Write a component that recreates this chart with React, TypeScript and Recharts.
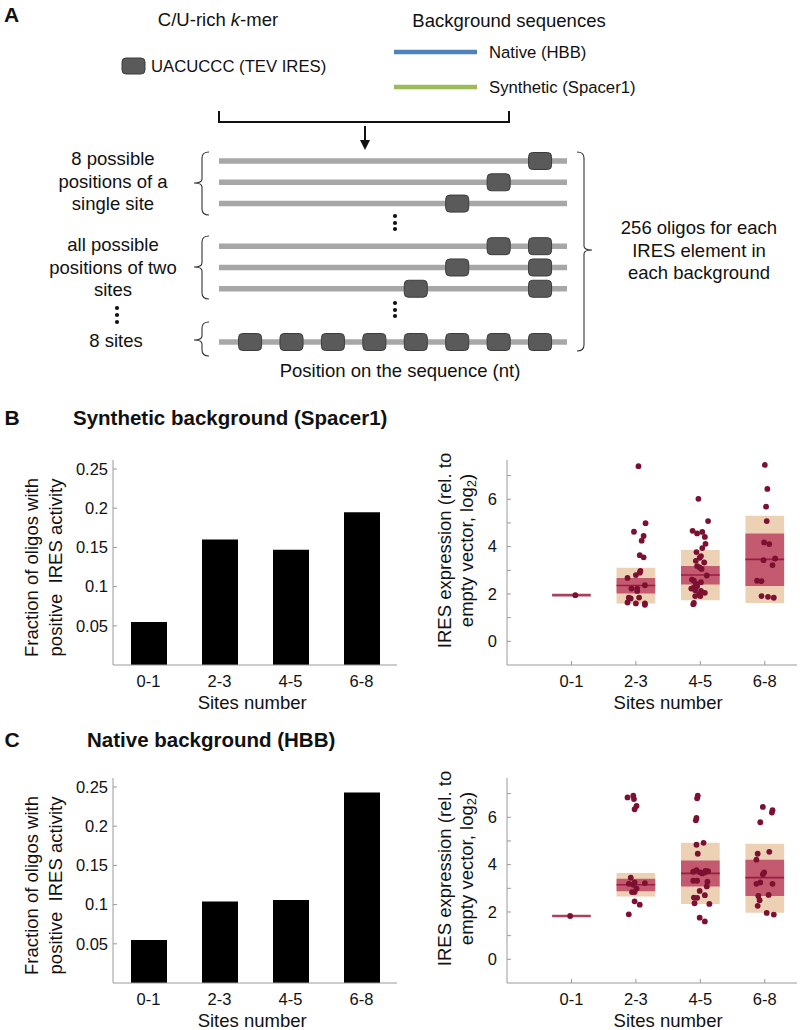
import React from 'react';
import {
  BarChart, Bar, XAxis, YAxis, ComposedChart, Scatter, ScatterChart,
  ReferenceArea, ReferenceLine,
} from 'recharts';

const FONT = '"Liberation Sans", Arial, Helvetica, sans-serif';
const AXIS = '#9a9a9a';
const LIGHT = '#ecd1b4';
const DARK = '#c45a70';
const MEDIAN = '#9c1c42';
const DOT = '#7c1030';
const SITE = '#5a5a5a';

// ---------- data ----------
const siteCategories = ['0-1', '2-3', '4-5', '6-8'];
const categoryPositions = [1, 2, 3, 4];

const synthFraction = [0.055, 0.160, 0.147, 0.195];
const nativeFraction = [0.055, 0.104, 0.106, 0.243];
const fractionTicks = [0.05, 0.1, 0.15, 0.2, 0.25];
const expressionTicks = [0, 1, 2, 3, 4, 5, 6, 7];

const synthMedian = [1.95, 2.36, 2.80, 3.46];
const synthInnerLow = [1.95, 2.02, 2.40, 2.34];
const synthInnerHigh = [1.95, 2.68, 3.18, 4.56];
const synthOuterLow = [1.95, 1.60, 1.74, 1.62];
const synthOuterHigh = [1.95, 3.11, 3.86, 5.30];

const nativeMedian = [1.83, 3.15, 3.63, 3.45];
const nativeInnerLow = [1.83, 2.88, 3.08, 2.68];
const nativeInnerHigh = [1.83, 3.40, 4.18, 4.21];
const nativeOuterLow = [1.83, 2.65, 2.34, 1.97];
const nativeOuterHigh = [1.83, 3.65, 4.92, 4.88];

const synthPoints: [number, number][] = [
  [1.06, 1.95],
  [2.15, 4.99], [1.97, 4.63], [2.12, 4.45], [2.09, 4.25], [2.06, 3.64], [2.12, 3.55],
  [2.07, 2.97], [2.06, 2.90], [2.00, 2.80], [1.87, 2.68], [2.14, 2.37], [1.93, 2.23],
  [2.02, 2.23], [2.02, 2.13], [1.89, 1.84], [1.92, 1.81], [2.05, 1.85], [1.87, 1.64],
  [2.00, 1.60], [2.14, 1.60], [2.14, 1.54], [2.04, 7.40],
  [2.97, 6.02], [3.12, 5.08], [2.88, 4.67], [2.95, 4.56], [3.03, 4.62], [3.07, 4.41],
  [3.08, 4.12], [3.03, 3.94], [2.94, 3.77], [3.01, 3.60], [2.99, 3.53], [2.93, 3.40],
  [3.06, 3.33], [2.95, 3.18], [2.99, 3.12], [3.02, 3.06], [3.10, 2.78], [2.87, 2.61],
  [2.90, 2.56], [3.01, 2.50], [2.93, 2.44], [2.90, 2.28], [2.86, 2.23], [2.95, 2.33],
  [2.92, 2.16], [3.01, 2.13], [3.07, 2.05], [2.98, 1.98], [2.92, 1.91], [3.00, 1.91],
  [2.90, 1.62], [2.89, 1.57],
  [4.04, 6.44], [4.02, 5.69], [4.03, 5.08], [3.99, 4.18], [4.07, 4.11], [3.98, 3.43],
  [4.16, 3.50], [4.12, 3.22], [3.88, 2.56], [3.95, 2.54], [3.95, 1.91], [4.05, 1.88],
  [4.14, 1.84], [4.00, 7.45],
];

const nativePoints: [number, number][] = [
  [0.98, 1.83],
  [1.87, 6.84], [1.96, 6.91], [1.97, 6.77], [2.01, 6.48], [1.98, 6.34], [1.92, 3.45],
  [1.98, 3.25], [1.89, 3.19], [2.14, 3.22], [1.96, 3.15], [2.01, 2.99], [1.94, 2.84],
  [1.98, 2.84], [1.98, 2.45], [2.06, 2.31], [1.89, 1.90],
  [2.96, 6.91], [2.95, 6.80], [2.94, 5.97], [2.93, 5.87], [3.05, 4.92], [2.94, 4.84],
  [2.96, 4.46], [2.89, 3.70], [2.94, 3.77], [3.00, 3.67], [3.03, 3.63], [3.08, 3.74],
  [3.12, 3.72], [3.07, 3.67], [2.89, 3.32], [2.95, 3.32], [3.11, 3.28], [3.10, 3.08],
  [2.99, 2.89], [3.07, 2.71], [2.90, 2.61], [2.95, 2.60], [2.91, 2.37], [3.14, 2.34],
  [2.99, 1.76], [3.07, 1.60],
  [3.97, 6.44], [4.12, 6.30], [4.11, 6.20], [3.93, 5.79], [4.07, 4.54], [3.89, 4.46],
  [3.87, 4.21], [3.99, 3.67], [3.97, 3.59], [3.93, 3.25], [3.87, 3.19], [4.12, 3.19],
  [4.06, 2.72], [3.90, 2.68], [3.92, 2.50], [3.89, 2.26], [4.03, 1.96], [4.14, 1.89],
];

// schematic: oligo rows (row slot, site positions 1..8)
const oligoRowSlots = [0, 1, 2, 4, 5, 6, 8.5];
const oligoRowSites = [[8], [7], [6], [7, 8], [6, 8], [5, 8], [1, 2, 3, 4, 5, 6, 7, 8]];

// ---------- panel A ----------
const SiteBox = (p: any) => (
  <rect x={p.cx - 11.5} y={p.cy - 8.5} width={23} height={17} rx={4} ry={4}
    fill={SITE} stroke="#3c3c3c" strokeWidth={1} />
);

function PanelA() {
  const sites = oligoRowSites.flatMap((s, i) => s.map((pos) => ({ x: pos, y: oligoRowSlots[i] })));
  return (
    <ScatterChart width={800} height={400} margin={{ top: 161, right: 233, bottom: 58, left: 219 }}>
      <XAxis type="number" dataKey="x" domain={[0.25, 8.65]} hide height={0} />
      <YAxis type="number" dataKey="y" domain={[0, 8.5]} reversed hide width={0} />
      {oligoRowSlots.map((r) => (
        <ReferenceLine key={r} segment={[{ x: 0.25, y: r }, { x: 8.65, y: r }]}
          stroke="#a7a7a7" strokeWidth={5.5} />
      ))}
      <Scatter data={sites} shape={SiteBox} isAnimationActive={false} />
    </ScatterChart>
  );
}

const brace = (x: number, y1: number, y2: number, tipY: number, dir: number) => {
  // dir = -1: tip points left; +1 tip points right
  const hx = x - dir * 7;
  const tx = x + dir * 8;
  return `M${hx},${y1} Q${x},${y1} ${x},${y1 + 6} L${x},${tipY - 4} Q${x},${tipY} ${tx},${tipY} Q${x},${tipY} ${x},${tipY + 4} L${x},${y2 - 6} Q${x},${y2} ${hx},${y2}`;
};

function Overlay() {
  const t = { fontFamily: FONT, fontSize: 18.5, fill: '#111', dominantBaseline: 'central' as const };
  const leg = { ...t, fontSize: 16.7 };
  const bold = { ...t, fontSize: 20.5, fontWeight: 700 };
  const dots = (x: number, ys: number[]) => ys.map((y) => <circle key={`${x}-${y}`} cx={x} cy={y} r={2.1} fill="#111" />);
  return (
    <svg width={800} height={1030} style={{ position: 'absolute', left: 0, top: 0, pointerEvents: 'none' }}>
      <text x={11.5} y={14} textAnchor="middle" {...bold} fontSize={21}>A</text>
      <text x={218} y={19} textAnchor="middle" {...t}>C/U-rich <tspan fontStyle="italic">k</tspan>-mer</text>
      <rect x={122} y={58} width={23} height={16} rx={4} fill={SITE} stroke="#3c3c3c" />
      <text x={151} y={66} {...leg}>UACUCCC (TEV IRES)</text>
      <text x={509} y={20} textAnchor="middle" {...t}>Background sequences</text>
      <line x1={394} x2={477} y1={52} y2={52} stroke="#4f81bd" strokeWidth={4.5} />
      <text x={489} y={52} {...leg}>Native (HBB)</text>
      <line x1={394} x2={477} y1={87} y2={87} stroke="#9bbb59" strokeWidth={4.5} />
      <text x={489} y={87} {...leg}>Synthetic (Spacer1)</text>
      <path d="M219,111 L219,122 L509,122 L509,111" fill="none" stroke="#111" strokeWidth={2} />
      <line x1={365} x2={365} y1={126} y2={142} stroke="#111" strokeWidth={2} />
      <path d="M360,140 L370,140 L365,150 Z" fill="#111" />

      <text x={113} y={158} textAnchor="middle" {...t}>8 possible</text>
      <text x={113} y={181} textAnchor="middle" {...t}>positions of a</text>
      <text x={113} y={203} textAnchor="middle" {...t}>single site</text>
      <text x={113} y={244} textAnchor="middle" {...t}>all possible</text>
      <text x={113} y={267} textAnchor="middle" {...t}>positions of two</text>
      <text x={113} y={289} textAnchor="middle" {...t}>sites</text>
      {dots(117, [308, 315, 322])}
      <text x={116} y={340} textAnchor="middle" {...t}>8 sites</text>
      <path d={brace(202, 152, 215, 183, -1)} fill="none" stroke="#333" strokeWidth={1.1} />
      <path d={brace(202, 236, 299, 267, -1)} fill="none" stroke="#333" strokeWidth={1.1} />
      <path d={brace(202, 322, 356, 340, -1)} fill="none" stroke="#333" strokeWidth={1.1} />
      <path d={brace(584, 152, 351, 250, 1)} fill="none" stroke="#333" strokeWidth={1.1} />
      {dots(395, [216, 223, 229])}
      {dots(395, [303, 310, 316])}
      <text x={699} y={227} textAnchor="middle" {...t}>256 oligos for each</text>
      <text x={699} y={250} textAnchor="middle" {...t}>IRES element in</text>
      <text x={699} y={272} textAnchor="middle" {...t}>each background</text>
      <text x={400} y={370} textAnchor="middle" {...t}>Position on the sequence (nt)</text>

      <text x={12} y={417} textAnchor="middle" {...bold} fontSize={21}>B</text>
      <text x={73} y={417} {...bold}>Synthetic background (Spacer1)</text>
      <text x={12} y={739} textAnchor="middle" {...bold} fontSize={21}>C</text>
      <text x={87} y={739} {...bold}>Native background (HBB)</text>
    </svg>
  );
}

// ---------- panels B/C ----------
const tickStyle = { fill: '#111', fontSize: 16.5, fontFamily: FONT };
const labelStyle = { fontFamily: FONT, fontSize: 18.5, fill: '#111' };

const xLabel = (frac: number) => (props: any) => {
  const vb = props.viewBox || {};
  return (
    <text x={vb.x + vb.width * frac} y={vb.y + 37} textAnchor="middle" dominantBaseline="central" {...labelStyle}>
      Sites number
    </text>
  );
};

function FractionChart({ values }: { values: number[] }) {
  const data = siteCategories.map((c, i) => ({ cat: c, value: values[i] }));
  const yLabel = (props: any) => {
    const vb = props.viewBox || {};
    const cy = vb.y + vb.height / 2 + 5;
    return (
      <g>
        <text x={31} y={cy} transform={`rotate(-90, 31, ${cy})`} textAnchor="middle" dominantBaseline="central" {...labelStyle}>
          Fraction of oligos with
        </text>
        <text x={55} y={cy} transform={`rotate(-90, 55, ${cy})`} textAnchor="middle" dominantBaseline="central" {...labelStyle} xmlSpace="preserve">
          positive  IRES activity
        </text>
      </g>
    );
  };
  return (
    <BarChart width={400} height={290} data={data} margin={{ top: 20, right: 3, bottom: 0, left: 0 }}>
      <XAxis dataKey="cat" height={65} tickLine={false} tickSize={-4} tickMargin={14}
        axisLine={{ stroke: AXIS }} tick={tickStyle} label={xLabel(0.49)} />
      <YAxis type="number" domain={[0, 0.2615]} ticks={fractionTicks} width={113}
        tickSize={-4} tickMargin={9} axisLine={{ stroke: AXIS }} tickLine={{ stroke: AXIS }}
        tick={tickStyle} label={yLabel} />
      <Bar dataKey="value" fill="#000" barSize={36} isAnimationActive={false} />
    </BarChart>
  );
}

const Dot = (p: any) => <circle cx={p.cx} cy={p.cy} r={2.9} fill={DOT} />;

function ExpressionChart(props: {
  median: number[]; innerLow: number[]; innerHigh: number[];
  outerLow: number[]; outerHigh: number[]; points: [number, number][];
}) {
  const { median, innerLow, innerHigh, outerLow, outerHigh, points } = props;
  const pts = points.map(([x, y]) => ({ x, y }));
  const yLabel = (lp: any) => {
    const vb = lp.viewBox || {};
    const cy = vb.y + vb.height / 2 - 12;
    return (
      <g>
        <text x={44} y={cy} transform={`rotate(-90, 44, ${cy})`} textAnchor="middle" dominantBaseline="central" {...labelStyle}>
          IRES expression (rel. to
        </text>
        <text x={66} y={cy} transform={`rotate(-90, 66, ${cy})`} textAnchor="middle" dominantBaseline="central" {...labelStyle}>
          empty vector, log<tspan fontSize={13} dy={5}>2</tspan><tspan dy={-5}>)</tspan>
        </text>
      </g>
    );
  };
  return (
    <ComposedChart width={400} height={290} margin={{ top: 20, right: 3, bottom: 0, left: 0 }}>
      <XAxis type="number" dataKey="x" domain={[0, 4.5]} ticks={categoryPositions}
        tickFormatter={(v: number) => siteCategories[v - 1]} height={65} tickSize={-4} tickMargin={14}
        axisLine={{ stroke: AXIS }} tickLine={{ stroke: AXIS }} tick={tickStyle}
        label={xLabel(2.5 / 4.5)} allowDataOverflow />
      <YAxis type="number" dataKey="y" domain={[-1, 7.66]} ticks={expressionTicks}
        tickFormatter={(v: number) => (v % 2 === 0 ? String(v) : '')} width={107}
        tickSize={-4} tickMargin={14} axisLine={{ stroke: AXIS }} tickLine={{ stroke: AXIS }}
        tick={tickStyle} label={yLabel} allowDataOverflow />
      {categoryPositions.map((c, i) => outerHigh[i] > outerLow[i] ? (
        <ReferenceArea key={`o${c}`} x1={c - 0.3} x2={c + 0.3} y1={outerLow[i]} y2={outerHigh[i]}
          fill={LIGHT} fillOpacity={1} stroke="none" />
      ) : null)}
      {categoryPositions.map((c, i) => innerHigh[i] > innerLow[i] ? (
        <ReferenceArea key={`i${c}`} x1={c - 0.3} x2={c + 0.3} y1={innerLow[i]} y2={innerHigh[i]}
          fill={DARK} fillOpacity={1} stroke="none" />
      ) : null)}
      {categoryPositions.map((c, i) => (
        <ReferenceLine key={`m${c}`} segment={[{ x: c - 0.3, y: median[i] }, { x: c + 0.3, y: median[i] }]}
          stroke={outerHigh[i] > outerLow[i] ? MEDIAN : '#a8405e'}
          strokeWidth={outerHigh[i] > outerLow[i] ? 1.6 : 2.6} />
      ))}
      <Scatter data={pts} dataKey="y" shape={Dot} isAnimationActive={false} />
    </ComposedChart>
  );
}

export default function App() {
  return (
    <div style={{ position: 'absolute', left: 0, top: 0, width: 800, height: 1030, background: '#fff', fontFamily: FONT }}>
      <div style={{ position: 'absolute', left: 0, top: 0 }}><PanelA /></div>
      <div style={{ position: 'absolute', left: 0, top: 440 }}><FractionChart values={synthFraction} /></div>
      <div style={{ position: 'absolute', left: 400, top: 440 }}>
        <ExpressionChart median={synthMedian} innerLow={synthInnerLow} innerHigh={synthInnerHigh}
          outerLow={synthOuterLow} outerHigh={synthOuterHigh} points={synthPoints} />
      </div>
      <div style={{ position: 'absolute', left: 0, top: 758 }}><FractionChart values={nativeFraction} /></div>
      <div style={{ position: 'absolute', left: 400, top: 758 }}>
        <ExpressionChart median={nativeMedian} innerLow={nativeInnerLow} innerHigh={nativeInnerHigh}
          outerLow={nativeOuterLow} outerHigh={nativeOuterHigh} points={nativePoints} />
      </div>
      <Overlay />
    </div>
  );
}
